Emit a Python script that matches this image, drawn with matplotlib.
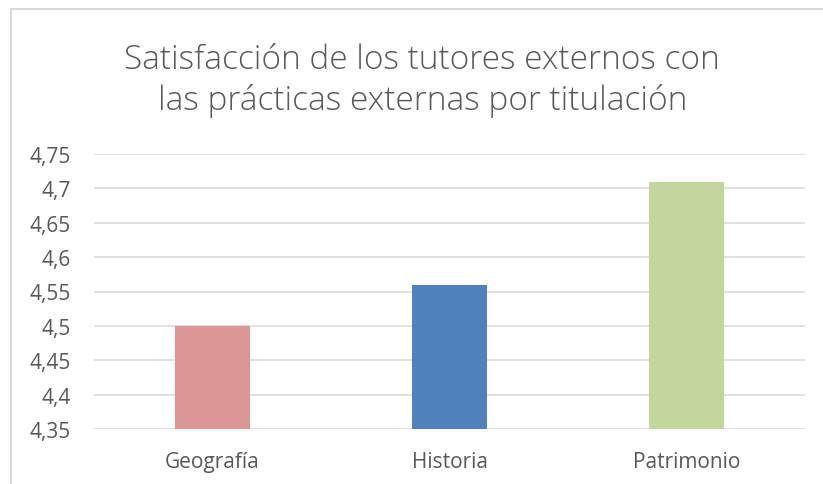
import matplotlib.pyplot as plt
from matplotlib.patches import Rectangle
from matplotlib.ticker import FuncFormatter

# Data
categorias = ['Geografía', 'Historia', 'Patrimonio']
valores = [4.50, 4.56, 4.71]
colores = ['#D99694', '#4F81BD', '#C3D69B']
yticks = [4.35, 4.40, 4.45, 4.50, 4.55, 4.60, 4.65, 4.70, 4.75]
titulo = 'Satisfacción de los tutores externos con\nlas prácticas externas por titulación'

plt.rcParams['font.family'] = ['Open Sans', 'DejaVu Sans']
txt_color = '#595959'

fig = plt.figure(figsize=(8.23, 4.85), dpi=100)
ax = fig.add_axes([94 / 823, 1 - 430 / 485, 711 / 823, 275 / 485])

ax.bar(range(len(categorias)), valores, width=0.316, color=colores, zorder=3)
ax.set_xlim(-0.5, len(categorias) - 0.5)
ax.set_ylim(4.35, 4.75)
ax.set_yticks(yticks)
ax.yaxis.set_major_formatter(FuncFormatter(lambda v, p: ('%g' % round(v, 2)).replace('.', ',')))
ax.set_xticks(range(len(categorias)))
ax.set_xticklabels(categorias)
ax.grid(axis='y', color='#D9D9D9', linewidth=1.1, zorder=0)
for s in ax.spines.values():
    s.set_visible(False)
ax.tick_params(axis='both', length=0, labelsize=15, colors=txt_color)
ax.tick_params(axis='y', pad=17)
ax.tick_params(axis='x', pad=16)

fig.text(0.513, 1 - 81 / 485, titulo, ha='center', va='center', fontsize=24,
         color=txt_color, linespacing=1.28, fontweight='light')

# chart border
fig.patches.append(Rectangle((11 / 823, -0.1), 1.2, 1 - 10 / 485 + 0.1, transform=fig.transFigure,
                             fill=False, edgecolor='#D9D9D9', linewidth=1.5, figure=fig))

fig.savefig('out.png', dpi=100)
print('Done!')
